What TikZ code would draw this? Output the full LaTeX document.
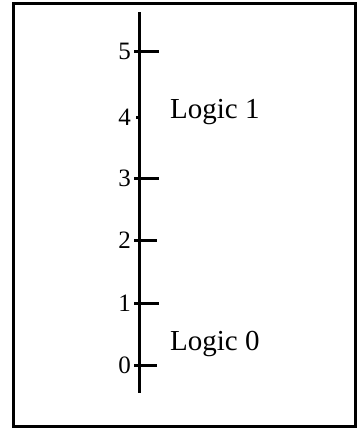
\documentclass[tikz,border=0pt]{standalone}
\usepackage{fontspec}
\setmainfont{Liberation Serif}
\begin{document}
\begin{tikzpicture}[x=1pt,y=-1pt,
  ln/.style={line width=3pt},
  tk/.style={line width=3pt},
  num/.style={anchor=east,inner sep=0pt,font=\fontsize{25}{25}\selectfont},
  lbl/.style={anchor=west,inner sep=0pt,font=\fontsize{29}{29}\selectfont}]
\useasboundingbox (0,0) rectangle (358,429);
\draw[ln] (13,3) rectangle (355.5,426);
\coordinate (top) at (139,12);
\coordinate (bot) at (139,393);
\draw[ln] (top) -- (bot);
\foreach \v/\y/\l in {5/51/20,3/178/20,2/240/18,1/303/20,0/365/18} {
  \draw[tk] (134,\y) -- (139+\l,\y);
  \node[num] (n\v) at (131,\y) {\v};
}
\draw[tk] (136,117) -- (141,117);
\node[num] (n4) at (131,117) {4};
\node[lbl] (l1) at (170,112) {Logic 1};
\node[lbl] (l0) at (170,344) {Logic 0};
\end{tikzpicture}
\end{document}
